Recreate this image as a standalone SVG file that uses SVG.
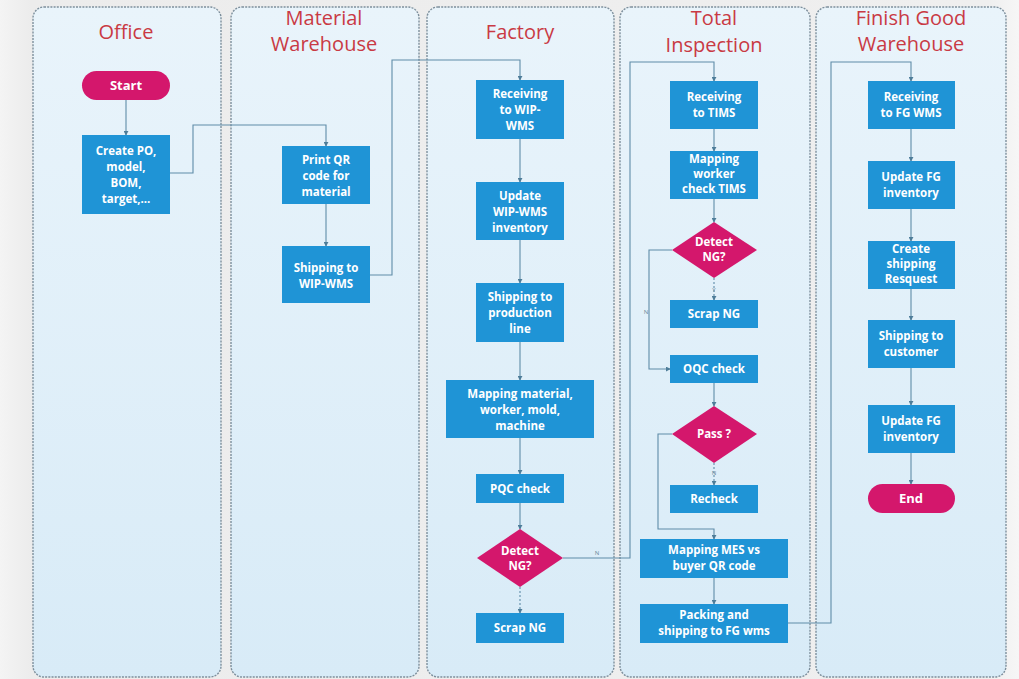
<svg xmlns="http://www.w3.org/2000/svg" width="1019" height="679" viewBox="0 0 1019 679">
<style>
.lane{fill:url(#laneg);stroke:#7d8f9c;stroke-width:1.4;stroke-dasharray:2 1.2}
.title{font-family:"Open Sans","Noto Sans",sans-serif;font-size:20px;fill:#c93a44;text-anchor:middle}
.box{fill:#1f94d6}
.term{fill:#d4176c}
.t{font-family:"Open Sans","Noto Sans",sans-serif;font-size:11.5px;font-weight:bold;fill:#ffffff;text-anchor:middle}
.tl{font-family:"Open Sans","Noto Sans",sans-serif;font-size:13px;font-weight:bold;fill:#ffffff;text-anchor:middle}
.c{fill:none;stroke:#5f8ca8;stroke-width:1.1;marker-end:url(#arr)}
.d{stroke-dasharray:2 2}
.lab{font-family:"Open Sans","Noto Sans",sans-serif;font-size:6px;fill:#6a8797;text-anchor:middle}
</style>
<defs>
<linearGradient id="bg" x1="0" y1="0" x2="1" y2="0">
<stop offset="0" stop-color="#f4f4f4"/><stop offset="0.03" stop-color="#ececec"/><stop offset="0.97" stop-color="#efefef"/><stop offset="1" stop-color="#f6f6f6"/>
</linearGradient>
<linearGradient id="laneg" x1="0" y1="0" x2="0" y2="1">
<stop offset="0" stop-color="#e9f4fb"/><stop offset="1" stop-color="#d8ebf7"/>
</linearGradient>
<marker id="arr" viewBox="0 0 6 6" refX="5" refY="3" markerWidth="5" markerHeight="5" orient="auto" markerUnits="userSpaceOnUse">
<path d="M0,0 L6,3 L0,6 z" fill="#4e7d99"/>
</marker>
</defs>
<rect x="0" y="0" width="1019" height="679" fill="url(#bg)"/>
<g id="lanes">
<rect class="lane" x="33" y="7" width="188" height="670" rx="11"/>
<rect class="lane" x="231" y="7" width="188" height="670" rx="11"/>
<rect class="lane" x="427" y="7" width="187" height="670" rx="11"/>
<rect class="lane" x="620" y="7" width="190" height="670" rx="11"/>
<rect class="lane" x="816" y="7" width="190" height="670" rx="11"/>
<text class="title" x="126" y="39">Office</text>
<text class="title" x="324" y="25">Material</text>
<text class="title" x="324" y="51">Warehouse</text>
<text class="title" x="520" y="39">Factory</text>
<text class="title" x="714" y="25">Total</text>
<text class="title" x="714" y="52">Inspection</text>
<text class="title" x="911" y="25">Finish Good</text>
<text class="title" x="911" y="51">Warehouse</text>
</g>
<g id="connectors">
<path class="c" d="M126,100 V135"/>
<path class="c" d="M170,173 H193 V125 H326 V146"/>
<path class="c" d="M326,204 V246"/>
<path class="c" d="M370,275 H392 V60 H520 V80"/>
<path class="c" d="M520,139 V182"/>
<path class="c" d="M520,240 V283"/>
<path class="c" d="M520,342 V380"/>
<path class="c" d="M520,438 V474"/>
<path class="c" d="M520,503 V529"/>
<path class="c d" d="M520,587 V613"/>
<path class="c" d="M563,558 H630 V62 H714 V81"/>
<text class="lab" x="597" y="555">N</text>
<path class="c" d="M714,129 V151"/>
<path class="c" d="M714,199 V222"/>
<path class="c d" d="M714,278 V300"/>
<text class="lab" x="714" y="292">Y</text>
<path class="c" d="M672,250 H649 V369 H670"/>
<text class="lab" x="646" y="314">N</text>
<path class="c" d="M714,383 V406"/>
<path class="c d" d="M714,463 V485"/>
<text class="lab" x="714" y="475">N</text>
<path class="c" d="M672,434 H658 V529 H714 V539"/>
<path class="c" d="M714,578 V604"/>
<path class="c" d="M788,623 H831 V62 H911 V81"/>
<path class="c" d="M911,129 V161"/>
<path class="c" d="M911,209 V241"/>
<path class="c" d="M911,289 V320"/>
<path class="c" d="M911,368 V405"/>
<path class="c" d="M911,453 V484"/>
</g>
<g id="start"><rect class="term" x="82" y="71" width="88" height="29" rx="14.5"/><text class="tl" x="126" y="90">Start</text></g>
<g id="create-po"><rect class="box" x="82" y="135" width="88" height="79"/><text class="t" x="126" y="155">Create PO,</text><text class="t" x="126" y="171">model,</text><text class="t" x="126" y="187">BOM,</text><text class="t" x="126" y="203">target,...</text></g>
<g id="print-qr"><rect class="box" x="282" y="146" width="88" height="58"/><text class="t" x="326" y="164">Print QR</text><text class="t" x="326" y="180">code for</text><text class="t" x="326" y="196">material</text></g>
<g id="ship-wip"><rect class="box" x="282" y="246" width="88" height="57"/><text class="t" x="326" y="272">Shipping to</text><text class="t" x="326" y="288">WIP-WMS</text></g>
<g id="recv-wip"><rect class="box" x="476" y="80" width="88" height="59"/><text class="t" x="520" y="98">Receiving</text><text class="t" x="520" y="114">to WIP-</text><text class="t" x="520" y="130">WMS</text></g>
<g id="upd-wip"><rect class="box" x="476" y="182" width="88" height="58"/><text class="t" x="520" y="200">Update</text><text class="t" x="520" y="216">WIP-WMS</text><text class="t" x="520" y="232">inventory</text></g>
<g id="ship-prod"><rect class="box" x="476" y="283" width="88" height="59"/><text class="t" x="520" y="301">Shipping to</text><text class="t" x="520" y="317">production</text><text class="t" x="520" y="333">line</text></g>
<g id="mapping-mat"><rect class="box" x="446" y="380" width="148" height="58"/><text class="t" x="520" y="398">Mapping material,</text><text class="t" x="520" y="414">worker, mold,</text><text class="t" x="520" y="430">machine</text></g>
<g id="pqc"><rect class="box" x="476" y="474" width="88" height="29"/><text class="t" x="520" y="493">PQC check</text></g>
<g id="detect-f"><polygon class="term" points="520,529 563,558 520,587 477,558"/><text class="t" x="520" y="555">Detect</text><text class="t" x="520" y="570">NG?</text></g>
<g id="scrap-f"><rect class="box" x="476" y="613" width="88" height="30"/><text class="t" x="520" y="632">Scrap NG</text></g>
<g id="recv-tims"><rect class="box" x="670" y="81" width="88" height="48"/><text class="t" x="714" y="101">Receiving</text><text class="t" x="714" y="117">to TIMS</text></g>
<g id="map-worker"><rect class="box" x="670" y="151" width="88" height="48"/><text class="t" x="714" y="163">Mapping</text><text class="t" x="714" y="178">worker</text><text class="t" x="714" y="193">check TIMS</text></g>
<g id="detect-t"><polygon class="term" points="714,222 757,250 714,278 672,250"/><text class="t" x="714" y="246">Detect</text><text class="t" x="714" y="261">NG?</text></g>
<g id="scrap-t"><rect class="box" x="670" y="300" width="88" height="28"/><text class="t" x="714" y="318">Scrap NG</text></g>
<g id="oqc"><rect class="box" x="670" y="355" width="88" height="28"/><text class="t" x="714" y="373">OQC check</text></g>
<g id="pass"><polygon class="term" points="714,406 757,434 714,463 672,434"/><text class="t" x="714" y="438">Pass ?</text></g>
<g id="recheck"><rect class="box" x="670" y="485" width="88" height="28"/><text class="t" x="714" y="503">Recheck</text></g>
<g id="map-mes"><rect class="box" x="640" y="539" width="148" height="39"/><text class="t" x="714" y="554">Mapping MES vs</text><text class="t" x="714" y="570">buyer QR code</text></g>
<g id="packing"><rect class="box" x="640" y="604" width="148" height="39"/><text class="t" x="714" y="619">Packing and</text><text class="t" x="714" y="635">shipping to FG wms</text></g>
<g id="recv-fg"><rect class="box" x="868" y="81" width="87" height="48"/><text class="t" x="911" y="101">Receiving</text><text class="t" x="911" y="117">to FG WMS</text></g>
<g id="upd-fg1"><rect class="box" x="868" y="161" width="87" height="48"/><text class="t" x="911" y="181">Update FG</text><text class="t" x="911" y="197">inventory</text></g>
<g id="create-ship"><rect class="box" x="868" y="241" width="87" height="48"/><text class="t" x="911" y="253">Create</text><text class="t" x="911" y="268">shipping</text><text class="t" x="911" y="283">Resquest</text></g>
<g id="ship-cust"><rect class="box" x="868" y="320" width="87" height="48"/><text class="t" x="911" y="340">Shipping to</text><text class="t" x="911" y="356">customer</text></g>
<g id="upd-fg2"><rect class="box" x="868" y="405" width="87" height="48"/><text class="t" x="911" y="425">Update FG</text><text class="t" x="911" y="441">inventory</text></g>
<g id="end"><rect class="term" x="868" y="484" width="87" height="29" rx="14.5"/><text class="tl" x="911" y="503">End</text></g>
</svg>
